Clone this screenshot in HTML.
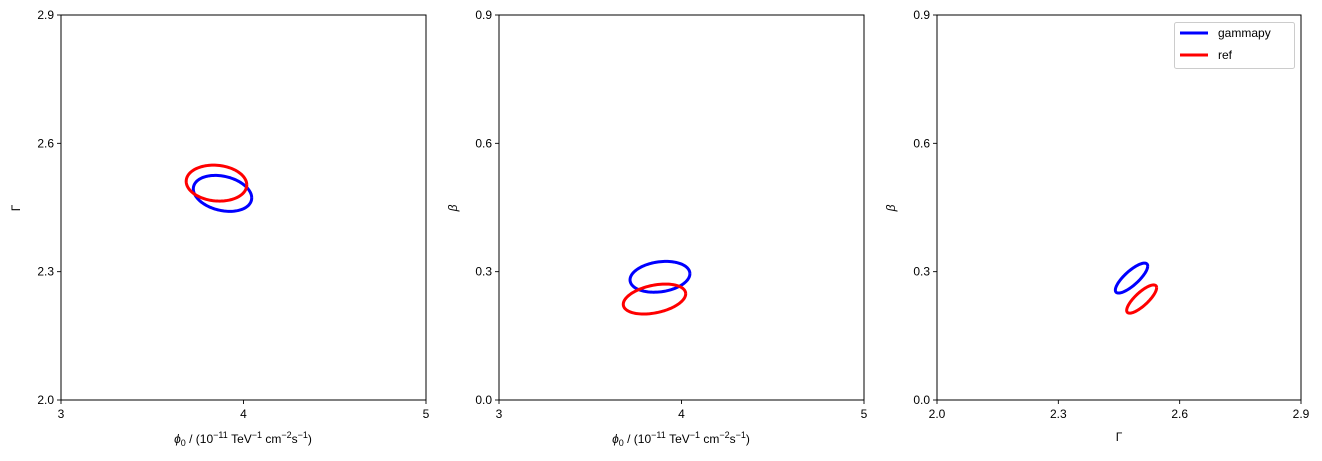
<!DOCTYPE html>
<html><head><meta charset="utf-8"><style>
body{margin:0;background:#fff}
svg{display:block;font-family:"Liberation Sans","DejaVu Sans",sans-serif}
</style></head><body>
<svg id="chart" width="1322" height="461" viewBox="0 0 1322 461" xmlns="http://www.w3.org/2000/svg"></svg>
<script>
// Panel data: contour ellipses (center, sigma, correlation) in data units
const panelNames = ['phi-gamma', 'phi-beta', 'gamma-beta'];
const xTicks = [[3, 4, 5], [3, 4, 5], [2.0, 2.3, 2.6, 2.9]];
const yTicks = [[2.0, 2.3, 2.6, 2.9], [0.0, 0.3, 0.6, 0.9], [0.0, 0.3, 0.6, 0.9]];
const xTickLabels = [['3','4','5'], ['3','4','5'], ['2.0','2.3','2.6','2.9']];
const yTickLabels = [['2.0','2.3','2.6','2.9'], ['0.0','0.3','0.6','0.9'], ['0.0','0.3','0.6','0.9']];
const seriesNames = ['gammapy', 'ref'];
const seriesColors = ['#0000ff', '#ff0000'];
// [cx, cy, sx, sy, rho] per panel
const gammapyEllipses = [[3.885, 2.483, 0.160, 0.042, -0.25], [3.882, 0.288, 0.164, 0.036, 0.2], [2.481, 0.285, 0.040, 0.035, 0.8]];
const refEllipses = [[3.852, 2.507, 0.166, 0.042, -0.1], [3.852, 0.236, 0.171, 0.035, 0.35], [2.506, 0.236, 0.037, 0.033, 0.8]];
const seriesData = [gammapyEllipses, refEllipses];

const NS = 'http://www.w3.org/2000/svg';
const svg = document.getElementById('chart');
const boxes = [[61, 15, 365, 385], [499, 15, 365, 385], [937, 15, 364, 385]];
function mk(tag, attrs, parent) {
  const e = document.createElementNS(NS, tag);
  for (const k in attrs) e.setAttribute(k, attrs[k]);
  (parent || svg).appendChild(e);
  return e;
}
boxes.forEach((b, p) => {
  const [L, T, W, H] = b;
  const xs = xTicks[p], ys = yTicks[p];
  const x0 = xs[0], x1 = xs[xs.length - 1], y0 = ys[0], y1 = ys[ys.length - 1];
  const X = v => L + (v - x0) / (x1 - x0) * W;
  const Y = v => T + H - (v - y0) / (y1 - y0) * H;
  const g = mk('g', {});
  
  
  xs.forEach((v, i) => {
    const t = mk('line', {x1: X(v), x2: X(v), y1: T + H, y2: T + H + 4, stroke: '#000', 'stroke-width': 0.9}, g);
    
    
    const tx = mk('text', {x: X(v), y: T + H + 18, 'text-anchor': 'middle', 'font-size': 12}, g);
    tx.textContent = xTickLabels[p][i];
    
    
  });
  ys.forEach((v, i) => {
    const t = mk('line', {x1: L - 4, x2: L, y1: Y(v), y2: Y(v), stroke: '#000', 'stroke-width': 0.9}, g);
    
    
    const tx = mk('text', {x: L - 7, y: Y(v) + 4, 'text-anchor': 'end', 'font-size': 12}, g);
    tx.textContent = yTickLabels[p][i];
    
    
  });
  seriesData.forEach((arr, s) => {
    const [cx, cy, sx, sy, rho] = arr[p];
    const pts = [];
    for (let i = 0; i <= 120; i++) {
      const t = i / 120 * 2 * Math.PI;
      const dx = cx + sx * Math.cos(t);
      const dy = cy + sy * (rho * Math.cos(t) + Math.sqrt(1 - rho * rho) * Math.sin(t));
      pts.push(X(dx).toFixed(2) + ',' + Y(dy).toFixed(2));
    }
    const pl = mk('polyline', {points: pts.join(' '), fill: 'none', stroke: seriesColors[s], 'stroke-width': 3}, g);
    
    
  });
  const fr = mk('rect', {x: L, y: T, width: W, height: H, fill: 'none', stroke: '#000', 'stroke-width': 1}, g);
  
  
});
</script>
<div style="position:absolute;left:0;top:0;width:1322px;height:461px;pointer-events:none">
<svg width="1322" height="461" style="position:absolute;left:0;top:0" font-family="Liberation Sans, DejaVu Sans, sans-serif">
  <text x="243" y="443" text-anchor="middle" font-size="12"><tspan font-style="italic">ϕ</tspan><tspan font-size="9" dy="3">0</tspan><tspan dy="-3"> / (10</tspan><tspan font-size="9" dy="-5">−11</tspan><tspan dy="5"> TeV</tspan><tspan font-size="9" dy="-5">−1</tspan><tspan dy="5"> cm</tspan><tspan font-size="9" dy="-5">−2</tspan><tspan dy="5">s</tspan><tspan font-size="9" dy="-5">−1</tspan><tspan dy="5">)</tspan></text>
  <text x="681" y="443" text-anchor="middle" font-size="12"><tspan font-style="italic">ϕ</tspan><tspan font-size="9" dy="3">0</tspan><tspan dy="-3"> / (10</tspan><tspan font-size="9" dy="-5">−11</tspan><tspan dy="5"> TeV</tspan><tspan font-size="9" dy="-5">−1</tspan><tspan dy="5"> cm</tspan><tspan font-size="9" dy="-5">−2</tspan><tspan dy="5">s</tspan><tspan font-size="9" dy="-5">−1</tspan><tspan dy="5">)</tspan></text>
  <text x="1119" y="441" text-anchor="middle" font-size="12">Γ</text>
  <text transform="translate(20,208) rotate(-90)" text-anchor="middle" font-size="12">Γ</text>
  <text transform="translate(457,208) rotate(-90)" text-anchor="middle" font-size="12" font-style="italic">β</text>
  <text transform="translate(895,208) rotate(-90)" text-anchor="middle" font-size="12" font-style="italic">β</text>
  <g>
    <rect x="1174.5" y="22.5" width="120" height="46" rx="2" fill="#fff" stroke="#ccc"/>
    <line x1="1180" x2="1208" y1="33" y2="33" stroke="#0000ff" stroke-width="3"/>
    <text x="1218" y="37" font-size="12">gammapy</text>
    <line x1="1180" x2="1208" y1="55" y2="55" stroke="#ff0000" stroke-width="3"/>
    <text x="1218" y="59" font-size="12">ref</text>
  </g>
</svg>
</div>
</body></html>
